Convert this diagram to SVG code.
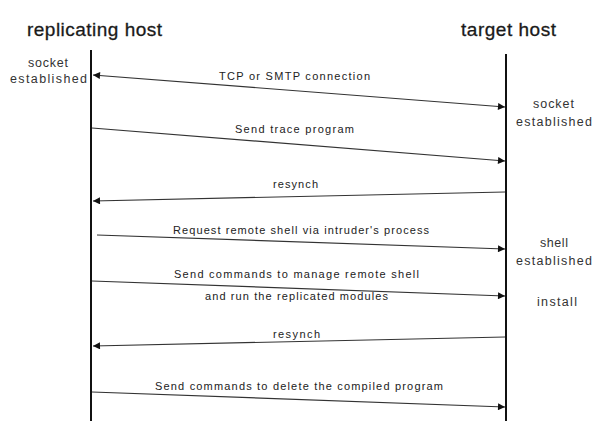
<svg xmlns="http://www.w3.org/2000/svg" width="605" height="445" viewBox="0 0 605 445">
  <style>
    .title { font-family: "Liberation Sans", Arial, sans-serif; font-size: 19px; fill: #1a1a1a; stroke: #1a1a1a; stroke-width: 0.3; }
    .msg { font-family: "Liberation Sans", Arial, sans-serif; font-size: 11px; fill: #222; text-anchor: middle; }
    .note { font-family: "Liberation Sans", Arial, sans-serif; font-size: 12.5px; fill: #333; text-anchor: middle; }
    .life { stroke: #111; stroke-width: 2; fill: none; }
    .arrow { stroke: #333; stroke-width: 1.2; fill: none; }
  </style>
  <defs>
    <marker id="head" viewBox="0 0 8 8" refX="8" refY="4" markerWidth="8" markerHeight="7" markerUnits="userSpaceOnUse" orient="auto-start-reverse">
      <path d="M0,0 L8,4 L0,8 Z" fill="#111"/>
    </marker>
  </defs>
  <rect width="605" height="445" fill="#ffffff"/>

  <!-- lifeline: replicating host -->
  <g id="replicating-host">
    <text class="title" x="27" y="36" textLength="135" lengthAdjust="spacing">replicating host</text>
    <line class="life" x1="91" y1="50" x2="91" y2="421"/>
    <text class="note" x="48" y="67" textLength="40" lengthAdjust="spacing">socket</text>
    <text class="note" x="48.5" y="83" textLength="77" lengthAdjust="spacing">established</text>
  </g>

  <!-- lifeline: target host -->
  <g id="target-host">
    <text class="title" x="461" y="36" textLength="95" lengthAdjust="spacing">target host</text>
    <line class="life" x1="506" y1="54" x2="506" y2="421"/>
    <text class="note" x="553.5" y="108" textLength="41" lengthAdjust="spacing">socket</text>
    <text class="note" x="554" y="126" textLength="76" lengthAdjust="spacing">established</text>
    <text class="note" x="554" y="247" textLength="28" lengthAdjust="spacing">shell</text>
    <text class="note" x="554" y="265" textLength="76" lengthAdjust="spacing">established</text>
    <text class="note" x="557" y="306" textLength="40" lengthAdjust="spacing">install</text>
  </g>

  <!-- messages between the hosts -->
  <g id="connectors">
    <line class="arrow" x1="93" y1="75" x2="505" y2="107" marker-start="url(#head)" marker-end="url(#head)"/>
    <text class="msg" x="294.5" y="80" textLength="151" lengthAdjust="spacing">TCP or SMTP connection</text>

    <line class="arrow" x1="92" y1="128" x2="505" y2="161" marker-end="url(#head)"/>
    <text class="msg" x="294.5" y="133" textLength="119" lengthAdjust="spacing">Send trace program</text>

    <line class="arrow" x1="505" y1="192" x2="93" y2="201" marker-end="url(#head)"/>
    <text class="msg" x="295.5" y="188" textLength="45" lengthAdjust="spacing">resynch</text>

    <line class="arrow" x1="97" y1="235" x2="505" y2="249" marker-end="url(#head)"/>
    <text class="msg" x="301" y="234" textLength="256" lengthAdjust="spacing">Request remote shell via intruder's process</text>

    <line class="arrow" x1="92" y1="281" x2="505" y2="296" marker-end="url(#head)"/>
    <text class="msg" x="296.5" y="278" textLength="245" lengthAdjust="spacing">Send commands to manage remote shell</text>
    <text class="msg" x="296.5" y="300" textLength="183" lengthAdjust="spacing">and run the replicated modules</text>

    <line class="arrow" x1="505" y1="337" x2="93" y2="346" marker-end="url(#head)"/>
    <text class="msg" x="296.5" y="338" textLength="47" lengthAdjust="spacing">resynch</text>

    <line class="arrow" x1="92" y1="392" x2="505" y2="407" marker-end="url(#head)"/>
    <text class="msg" x="299" y="390" textLength="288" lengthAdjust="spacing">Send commands to delete the compiled program</text>
  </g>
</svg>
